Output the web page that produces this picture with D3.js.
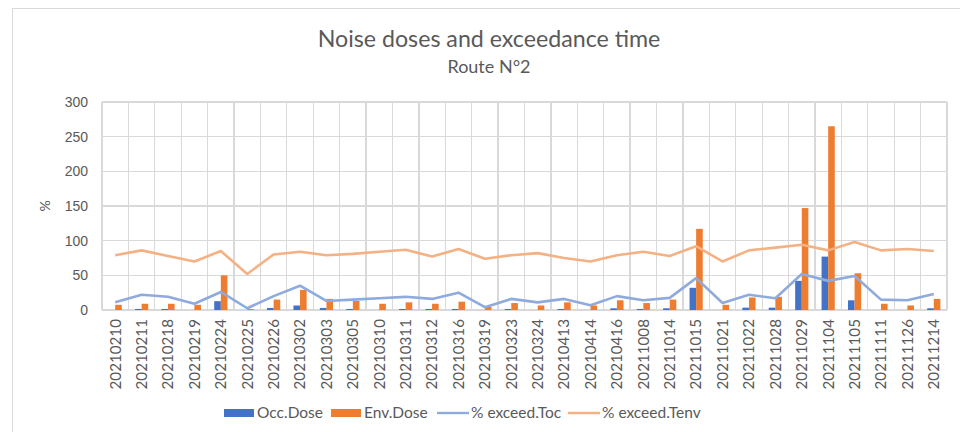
<!DOCTYPE html>
<html>
<head>
<meta charset="utf-8">
<script src="https://cdn.jsdelivr.net/npm/d3@7"></script>
<style>
  body { margin: 0; background: #fff; }
  svg { display: block; font-family: Lato, "Liberation Sans", sans-serif; }
  .grid line { stroke: #d9d9d9; stroke-width: 1.3; shape-rendering: crispEdges; }
  .tick-label { fill: #595959; font-size: 14px; }
  .x-label { fill: #595959; font-size: 15.2px; }
  .title { fill: #595959; }
  .legend text { fill: #595959; font-size: 15.5px; }
</style>
</head>
<body>
<div id="vis"></div>
<script>

var dates = ["20210210","20210211","20210218","20210219","20210224","20210225","20210226","20210302",
  "20210303","20210305","20210310","20210311","20210312","20210316","20210319","20210323",
  "20210324","20210413","20210414","20210416","20211008","20211014","20211015","20211021",
  "20211022","20211028","20211029","20211104","20211105","20211111","20211126","20211214"];

var occDose = [0, 1.5, 1.5, 0, 12.7, 0, 3, 6.5, 3, 1.5, 0, 1.5, 1.5, 1.5, 0, 1.5,
  0, 1.5, 0, 2.5, 1.5, 2.5, 32, 0, 3.4, 3.4, 42, 77, 14, 0, 0, 2.5];

var envDose = [7.5, 9, 9, 7.5, 50, 1.5, 15, 29, 16, 13, 9, 11, 9, 12, 4.5, 10,
  6.5, 11, 6.5, 14, 10, 15, 117, 7.5, 18, 19, 147, 265, 53, 9, 6.5, 16];

var exceedToc = [11, 22, 19, 9, 26, 2.5, 20, 35, 13, 15, 17, 19, 16, 25, 4, 16,
  11, 16, 7, 20, 14, 17.5, 46, 10, 22, 17, 52, 42, 49, 15, 14, 23];

var exceedTenv = [79, 86, 78, 70, 85, 52, 80, 84, 79, 81, 84, 87, 77, 88, 74, 79,
  82, 75, 70, 79, 84, 78, 92, 70, 86, 90, 94, 86, 98, 86, 88, 85];

var yTicks = [0, 50, 100, 150, 200, 250, 300];

var seriesNames = ["Occ.Dose", "Env.Dose", "% exceed.Toc", "% exceed.Tenv"];
var colors = ["#4472C4", "#ED7D31", "#8FAADC", "#F4B183"];

var chart = function() {

  var width = 960, height = 432;
  var margin = {top: 102, right: 13, bottom: 122, left: 102};

  var chart = function(selection) {
    selection.each(function() {
      var svg = d3.select(this).append("svg")
        .attr("width", width)
        .attr("height", height);

      // outer chart border
      svg.append("rect")
        .attr("x", 12.5).attr("y", 8.5)
        .attr("width", 960).attr("height", 440)
        .attr("fill", "none")
        .attr("stroke", "#d9d9d9");

      var innerW = width - margin.left - margin.right;
      var innerH = height - margin.top - margin.bottom;

      var g = svg.append("g")
        .attr("transform", "translate(" + margin.left + "," + margin.top + ")");

      var x = d3.scaleBand().domain(dates).range([0, innerW]).padding(0);
      var xs = d3.scaleBand().domain([0, 1]).range([0, x.bandwidth()])
        .paddingInner(0).paddingOuter(1);
      var y = d3.scaleLinear().domain([0, 300]).range([innerH, 0]);

      // gridlines
      var grid = g.append("g").attr("class", "grid");
      grid.selectAll(".hgrid")
        .data(yTicks).enter()
        .append("line")
        .attr("x1", 0).attr("x2", innerW)
        .attr("y1", function(d) { return y(d); })
        .attr("y2", function(d) { return y(d); });
      grid.selectAll(".vgrid")
        .data(dates.concat(["end"])).enter()
        .append("line")
        .attr("x1", function(d) { return d === "end" ? innerW : x(d); })
        .attr("x2", function(d) { return d === "end" ? innerW : x(d); })
        .attr("y1", 0).attr("y2", innerH);

      // y axis
      var yAxis = g.append("g")
        .call(d3.axisLeft(y).tickValues(yTicks).tickSize(0).tickPadding(14));
      yAxis.select(".domain").remove();
      yAxis.selectAll("text")
        .attr("class", "tick-label")
        .attr("font-family", null)
        .attr("font-size", null);

      g.append("text")
        .attr("class", "tick-label")
        .attr("transform", "translate(" + (-57) + "," + (innerH / 2) + ") rotate(-90)")
        .attr("text-anchor", "middle")
        .attr("dy", "0.35em")
        .text("%");

      // x labels
      g.selectAll(".xlabel")
        .data(dates).enter()
        .append("text")
        .attr("class", "x-label")
        .attr("text-anchor", "end")
        .attr("dy", "0.35em")
        .attr("transform", function(d) {
          return "translate(" + (x(d) + x.bandwidth() / 2) + "," + (innerH + 9) + ") rotate(-90)";
        })
        .text(function(d) { return d; });

      // bars
      [occDose, envDose].forEach(function(vals, s) {
        g.selectAll(".bar" + s)
          .data(vals).enter()
          .append("rect")
          .attr("x", function(d, i) { return x(dates[i]) + xs(s); })
          .attr("width", xs.bandwidth())
          .attr("y", function(d) { return y(d); })
          .attr("height", function(d) { return innerH - y(d); })
          .attr("fill", colors[s]);
      });

      // lines
      var line = d3.line()
        .x(function(d, i) { return x(dates[i]) + x.bandwidth() / 2; })
        .y(function(d) { return y(d); });

      [exceedToc, exceedTenv].forEach(function(vals, s) {
        g.append("path")
          .datum(vals)
          .attr("fill", "none")
          .attr("stroke", colors[s + 2])
          .attr("stroke-width", 2.6)
          .attr("stroke-linejoin", "round")
          .attr("d", line);
      });

      // title
      svg.append("text")
        .attr("class", "title")
        .attr("x", 489).attr("y", 47)
        .attr("text-anchor", "middle")
        .attr("font-size", 23.2)
        .text("Noise doses and exceedance time");
      svg.append("text")
        .attr("class", "title")
        .attr("x", 489).attr("y", 73)
        .attr("text-anchor", "middle")
        .attr("font-size", 18)
        .text("Route N°2");

      // legend
      var legendX = [224, 331, 437, 568];
      var legend = svg.append("g").attr("class", "legend");
      var item = legend.selectAll(".item")
        .data(seriesNames).enter()
        .append("g")
        .attr("transform", function(d, i) { return "translate(" + legendX[i] + ",413)"; });
      item.append("rect")
        .attr("x", 0)
        .attr("y", function(d, i) { return i < 2 ? -4 : -1.2; })
        .attr("width", function(d, i) { return i < 2 ? 30 : 32; })
        .attr("height", function(d, i) { return i < 2 ? 8 : 2.4; })
        .attr("fill", function(d, i) { return colors[i]; });
      item.append("text")
        .attr("x", function(d, i) { return i < 2 ? 33 : 34; })
        .attr("dy", "0.35em")
        .text(function(d) { return d; });
    });
  };

  return chart;
};

d3.select("#vis").call(chart());
</script>
</body>
</html>
